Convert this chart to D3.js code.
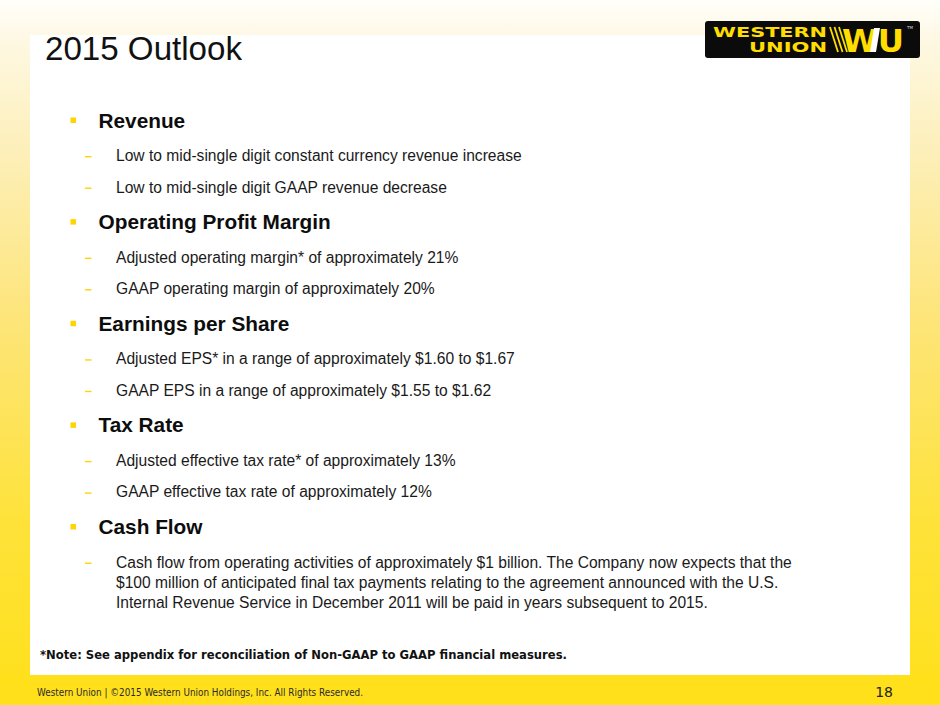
<!DOCTYPE html>
<html>
<head>
<meta charset="utf-8">
<script src="https://cdn.jsdelivr.net/npm/d3@7"></script>
<style>
  html, body { margin: 0; padding: 0; background: #fff; }
  svg { display: block; }
</style>
</head>
<body>
<div id="chart"></div>
<script>
// ---- content ----
const titleText = "2015 Outlook";
const headings = ["Revenue", "Operating Profit Margin", "Earnings per Share", "Tax Rate", "Cash Flow"];
const subItems = [
  [["Low to mid-single digit constant currency revenue increase"],
   ["Low to mid-single digit GAAP revenue decrease"]],
  [["Adjusted operating margin* of approximately 21%"],
   ["GAAP operating margin of approximately 20%"]],
  [["Adjusted EPS* in a range of approximately $1.60 to $1.67"],
   ["GAAP EPS in a range of approximately $1.55 to $1.62"]],
  [["Adjusted effective tax rate* of approximately 13%"],
   ["GAAP effective tax rate of approximately 12%"]],
  [["Cash flow from operating activities of approximately $1 billion. The Company now expects that the",
    "$100 million of anticipated final tax payments relating to the agreement announced with the U.S.",
    "Internal Revenue Service in December 2011 will be paid in years subsequent to 2015."]]
];
const noteText = "*Note: See appendix for reconciliation of Non-GAAP to GAAP financial measures.";
const footerText = "Western Union | \u00A92015 Western Union Holdings, Inc. All Rights Reserved.";
const pageNumber = "18";
const logoWords = ["WESTERN", "UNION"];
const logoMark = "WU";

// ---- layout ----
const W = 940, H = 705;
const svg = d3.select("#chart").append("svg").attr("width", W).attr("height", H);
const defs = svg.append("defs");

const bg = defs.append("linearGradient").attr("id", "bg").attr("x1", 0).attr("y1", 0).attr("x2", 0).attr("y2", 1);
[[0, "#fffefa"], [0.06, "#fef8e2"], [0.2, "#fdf0bd"], [0.45, "#fde57a"], [0.75, "#fee238"], [1, "#ffe01b"]]
  .forEach(([o, c]) => bg.append("stop").attr("offset", o).attr("stop-color", c));

svg.append("rect").attr("width", W).attr("height", H).attr("fill", "url(#bg)");
// bottom band solid yellow
svg.append("rect").attr("x", 0).attr("y", 675).attr("width", W).attr("height", 30).attr("fill", "#ffe01b");

// white panel
svg.append("rect").attr("x", 30).attr("y", 35).attr("width", 880).attr("height", 640).attr("fill", "#ffffff");

// title
svg.append("text").attr("x", 45).attr("y", 60)
  .attr("font-family", "Liberation Sans, Arial, sans-serif").attr("font-size", 33)
  .attr("fill", "#111").attr("textLength", 197).attr("lengthAdjust", "spacingAndGlyphs")
  .text(titleText);

// logo
const logo = svg.append("g");
logo.append("rect").attr("x", 705).attr("y", 21).attr("width", 215).attr("height", 37).attr("rx", 3).attr("fill", "#0b0b0b");
const yellow = "#ffdd00";
logo.append("text").attr("x", 713).attr("y", 37)
  .attr("font-family", "DejaVu Sans, sans-serif").attr("font-weight", "bold").attr("font-size", 14)
  .attr("fill", yellow).attr("textLength", 114).attr("lengthAdjust", "spacingAndGlyphs").text(logoWords[0]);
logo.append("text").attr("x", 749).attr("y", 52)
  .attr("font-family", "DejaVu Sans, sans-serif").attr("font-weight", "bold").attr("font-size", 14)
  .attr("fill", yellow).attr("textLength", 78).attr("lengthAdjust", "spacingAndGlyphs").text(logoWords[1]);
[830, 834.5, 839].forEach(x0 => {
  logo.append("line").attr("x1", x0).attr("y1", 27).attr("x2", x0 + 8).attr("y2", 52)
    .attr("stroke", yellow).attr("stroke-width", 1.8);
});
logo.append("text").attr("x", 842).attr("y", 52)
  .attr("font-family", "DejaVu Sans, sans-serif").attr("font-weight", "bold").attr("font-size", 32)
  .attr("fill", yellow).attr("textLength", 62).attr("lengthAdjust", "spacingAndGlyphs").text(logoMark);
logo.append("path").attr("d", "M874,28 L880,28 L876,52 L870,52 Z").attr("fill", "#ffffff");
logo.append("text").attr("x", 907).attr("y", 29)
  .attr("font-family", "DejaVu Sans, sans-serif").attr("font-size", 4).attr("fill", "#ddd").text("TM");

// bullets
const ySection = d3.scaleLinear().domain([0, headings.length - 1]).range([127.5, 534]);
const ySub = d3.scaleLinear().domain([0, 1]).range([33.5, 65]);
const lineStep = 20;

const sec = svg.selectAll("g.section").data(headings).join("g").attr("class", "section")
  .attr("transform", (d, i) => `translate(0,${ySection(i)})`);

sec.append("rect").attr("x", 70.5).attr("y", -10).attr("width", 5.5).attr("height", 5.5).attr("fill", "#ffd400");
sec.append("text").attr("x", 98.5).attr("y", 0)
  .attr("font-family", "Liberation Sans, Arial, sans-serif").attr("font-weight", "bold").attr("font-size", 20.8)
  .attr("fill", "#0d0d0d").text(d => d);

sec.each(function (d, i) {
  const g = d3.select(this);
  subItems[i].forEach((lines, j) => {
    const by = ySub(j);
    g.append("line").attr("x1", 85).attr("x2", 91.5).attr("y1", by - 4.3).attr("y2", by - 4.3)
      .attr("stroke", "#ffd400").attr("stroke-width", 1.4);
    lines.forEach((ln, k) => {
      g.append("text").attr("x", 116).attr("y", by + k * lineStep)
        .attr("font-family", "Liberation Sans, Arial, sans-serif").attr("font-size", 15.6)
        .attr("fill", "#1a1a1a").text(ln);
    });
  });
});

// note
svg.append("text").attr("x", 40).attr("y", 658.5)
  .attr("font-family", "DejaVu Sans, Verdana, sans-serif").attr("font-weight", "bold").attr("font-size", 12.5)
  .attr("fill", "#111").attr("textLength", 527).attr("lengthAdjust", "spacingAndGlyphs").text(noteText);

// footer
svg.append("text").attr("x", 37).attr("y", 696)
  .attr("font-family", "DejaVu Sans, Verdana, sans-serif").attr("font-size", 10.5)
  .attr("fill", "#2a2a2a").attr("textLength", 326).attr("lengthAdjust", "spacingAndGlyphs").text(footerText);
svg.append("text").attr("x", 893).attr("y", 697).attr("text-anchor", "end")
  .attr("font-family", "DejaVu Sans, Verdana, sans-serif").attr("font-size", 14)
  .attr("fill", "#222").text(pageNumber);
</script>
</body>
</html>
